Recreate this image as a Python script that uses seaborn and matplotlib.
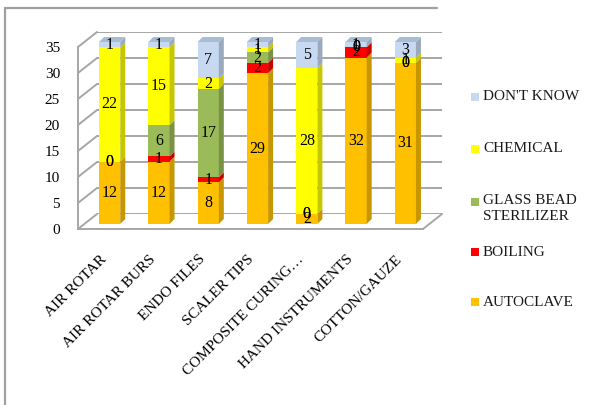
import matplotlib
matplotlib.use("Agg")
import matplotlib.pyplot as plt
import matplotlib.colors as mcolors
import matplotlib.transforms as mtransforms
from matplotlib.lines import Line2D
from matplotlib.patches import Polygon, Rectangle
import numpy as np
import pandas as pd
import seaborn as sns

# ---- data -------------------------------------------------------------
categories = ["AIR ROTAR", "AIR ROTAR BURS", "ENDO FILES", "SCALER TIPS",
              "COMPOSITE CURING\u2026", "HAND INSTRUMENTS", "COTTON/GAUZE"]
autoclave = [12, 12, 8, 29, 2, 32, 31]
boiling = [0, 1, 1, 2, 0, 2, 0]
glass_bead = [0, 6, 17, 2, 0, 0, 0]
chemical = [22, 15, 2, 1, 28, 0, 1]
dont_know = [1, 1, 7, 1, 5, 1, 3]
series_names = ["AUTOCLAVE", "BOILING", "GLASS BEAD\nSTERILIZER", "CHEMICAL", "DON'T KNOW"]
y_ticks = [0, 5, 10, 15, 20, 25, 30, 35]

series_values = [autoclave, boiling, glass_bead, chemical, dont_know]
series_colors = ["#FFC000", "#FF0000", "#9BBB59", "#FFFF00", "#C6D9F1"]

sns.set_theme(style="white")
plt.rcParams["font.family"] = ["Liberation Serif", "DejaVu Serif"]

W, H = 606, 405
fig = plt.figure(figsize=(W / 100, H / 100), dpi=100)


def frac_box(left, bottom_img, right, top_img):
    return [left / W, (H - bottom_img) / H, (right - left) / W, (bottom_img - top_img) / H]


# three planes of the pseudo-3D box: back wall, bar plane, front axis
ax_back = fig.add_axes(frac_box(97, 214, 442, 32))
ax = fig.add_axes(frac_box(85, 224, 430, 42))
ax_front = fig.add_axes(frac_box(78, 229, 423, 47))
for a, z in ((ax_back, 0), (ax, 2), (ax_front, 3)):
    a.set_xlim(-0.5, len(categories) - 0.5)
    a.set_ylim(0, 35)
    a.set_zorder(z)
    a.patch.set_alpha(0)

grid_col = "#A6A6A6"

# back wall gridlines
for yv in y_ticks:
    ax_back.plot([-0.5, len(categories) - 0.5], [yv, yv], color=grid_col, lw=1.4,
                 solid_capstyle="butt")
ax_back.set_axis_off()

# stacked bars (front faces) via cumulative sums, drawn top series first
cum = np.cumsum(np.array(series_values), axis=0)
df = pd.DataFrame({"category": categories})
for k in range(len(series_values) - 1, -1, -1):
    df["val"] = cum[k]
    sns.barplot(data=df, x="category", y="val", order=categories, color=series_colors[k],
                saturation=1, width=0.43, errorbar=None, linewidth=0, ax=ax)
ax.set_xlim(-0.5, len(categories) - 0.5)
ax.set_ylim(0, 35)
ax.set_axis_off()

# depth faces of the bars
DX, DY = 5, 5
ident = mtransforms.IdentityTransform()
half = 0.43 / 2
bottoms = np.vstack([np.zeros(len(categories)), cum[:-1]])
for i in range(len(categories)):
    for k in range(len(series_values)):
        v = series_values[k][i]
        if v <= 0:
            continue
        y0, y1 = bottoms[k][i], cum[k][i]
        xr = i + half
        p0 = ax.transData.transform((xr, y0))
        p1 = ax.transData.transform((xr, y1))
        side_col = np.array(mcolors.to_rgb(series_colors[k])) * 0.78
        ax.add_patch(Polygon([p0, p0 + [DX, DY], p1 + [DX, DY], p1], closed=True,
                             facecolor=side_col, edgecolor="none", transform=ident,
                             clip_on=False, zorder=3))
    top = cum[-1][i]
    a0 = ax.transData.transform((i - half, top))
    a1 = ax.transData.transform((i + half, top))
    ax.add_patch(Polygon([a0, a0 + [DX, DY], a1 + [DX, DY], a1], closed=True,
                         facecolor="#A9BCD6", edgecolor="none", transform=ident,
                         clip_on=False, zorder=3))

# value labels on every segment
for k in range(len(series_values)):
    for i in range(len(categories)):
        v = series_values[k][i]
        yc = bottoms[k][i] + v / 2
        ax.text(i, yc, str(v), ha="center", va="center", fontsize=11.5, color="black",
                zorder=5)

# front axis: spines, ticks and labels
for s in ("top", "right"):
    ax_front.spines[s].set_visible(False)
for s in ("left", "bottom"):
    ax_front.spines[s].set_color(grid_col)
    ax_front.spines[s].set_linewidth(1.4)
ax_front.set_yticks(y_ticks)
ax_front.set_yticklabels([str(t) for t in y_ticks], fontsize=11)
ax_front.tick_params(axis="y", direction="out", length=4, width=1.2, color=grid_col,
                     pad=9, labelcolor="black")
ax_front.set_xticks(range(len(categories)))
ax_front.set_xticklabels(categories, rotation=45, ha="right", rotation_mode="anchor",
                         fontsize=11)
ax_front.tick_params(axis="x", which="major", length=0, pad=17, labelcolor="black")
ax_front.set_xticks(np.arange(-0.5, len(categories), 1.0), minor=True)
ax_front.tick_params(axis="x", which="minor", direction="out", length=4, width=1.2,
                     color=grid_col)
shift = mtransforms.ScaledTranslation(-3 / 100, 0, fig.dpi_scale_trans)
for lab in ax_front.get_xticklabels():
    lab.set_transform(lab.get_transform() + shift)

# connecting edges between front axis and back wall
for yv in y_ticks:
    f = ax_front.transData.transform((-0.5, yv))
    b = ax_back.transData.transform((-0.5, yv))
    fig.add_artist(Line2D([f[0], b[0]], [f[1], b[1]], color=grid_col, lw=1.4,
                          transform=ident, zorder=1))
f = ax_front.transData.transform((len(categories) - 0.5, 0))
b = ax_back.transData.transform((len(categories) - 0.5, 0))
fig.add_artist(Line2D([f[0], b[0]], [f[1], b[1]], color=grid_col, lw=1.4,
                      transform=ident, zorder=1))

# legend entries (top series first)
legend_rows = [(4, 97), (3, 149), (2, 202), (1, 252), (0, 302)]
for k, yc in legend_rows:
    label = series_names[k]
    fig.add_artist(Rectangle((471 / W, (H - yc - 4) / H), 8 / W, 8 / H,
                             facecolor=series_colors[k], edgecolor="none",
                             transform=fig.transFigure))
    if "\n" in label:
        fig.text(483 / W, (H - yc + 8) / H, label, ha="left", va="top", fontsize=11,
                 color="#1a1a1a", linespacing=1.3)
    else:
        fig.text(483 / W, (H - yc) / H, label, ha="left", va="center", fontsize=11,
                 color="#1a1a1a")

# outer frame
fig.add_artist(Line2D([5 / W, 5 / W], [0, (H - 8) / H], color="#A0A0A0", lw=1.6,
                      transform=fig.transFigure))
fig.add_artist(Line2D([5 / W, 437 / W], [(H - 8) / H, (H - 8) / H], color="#A0A0A0",
                      lw=1.6, transform=fig.transFigure))

fig.savefig("out.png", dpi=100)
